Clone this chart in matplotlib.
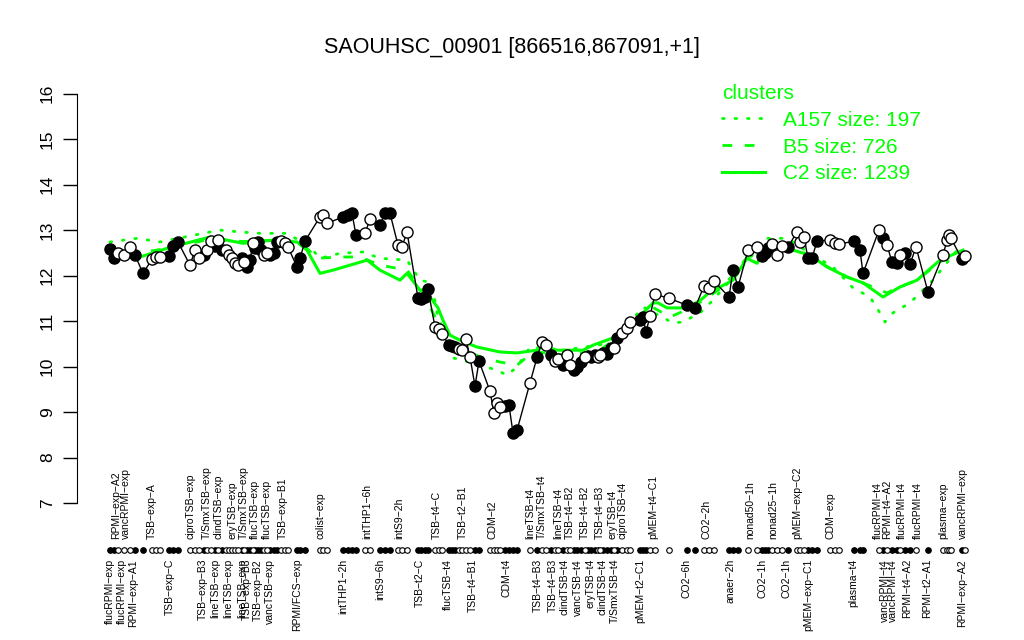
import matplotlib.pyplot as plt
import numpy as np

plt.rcParams['font.family'] = ['Liberation Sans', 'DejaVu Sans']

title = "SAOUHSC_00901 [866516,867091,+1]"

# sample position on the x axis, expression value, filled (1) / open (0) marker
pos = [110, 114, 118, 124, 130, 135, 143, 152, 156, 160, 169, 173, 178,
       190, 195, 199, 204, 207, 211, 215, 218, 222, 226, 229, 232, 235, 238,
       242, 244, 247, 250, 253, 255, 258, 261, 264, 267, 270, 274, 277, 281,
       285, 288, 297, 300, 305, 320, 323, 327, 343, 348, 352, 356, 365, 370,
       380, 385, 390, 398, 402, 407, 418, 421, 425, 428, 435, 439, 442, 449,
       452, 455, 459, 462, 466, 470, 475, 479, 490, 494, 497, 500, 505, 509,
       513, 517, 530, 537, 542, 546, 551, 555, 558, 563, 567, 570, 574, 577,
       581, 585, 588, 591, 595, 598, 600, 603, 607, 611, 614, 617, 622, 627,
       630, 640, 643, 646, 650, 655, 669, 687, 695, 704, 709, 714, 729, 733,
       738, 748, 757, 762, 765, 768, 772, 777, 782, 788, 797, 800, 804, 808,
       812, 817, 830, 835, 839, 854, 860, 863, 879, 883, 887, 892, 897, 900,
       905, 910, 916, 928, 943, 947, 949, 951, 962, 965]
expr = [12.58, 12.38, 12.49, 12.45, 12.63, 12.45, 12.05, 12.36, 12.40, 12.42,
        12.43, 12.65, 12.74, 12.23, 12.56, 12.38, 12.45, 12.56, 12.76, 12.65,
        12.78, 12.56, 12.56, 12.45, 12.38, 12.27, 12.23, 12.38, 12.30, 12.19,
        12.34, 12.71, 12.60, 12.74, 12.56, 12.45, 12.50, 12.45, 12.50, 12.74,
        12.76, 12.71, 12.63, 12.19, 12.38, 12.76, 13.29, 13.33, 13.15, 13.29,
        13.33, 13.37, 12.89, 12.93, 13.24, 13.11, 13.37, 13.37, 12.67, 12.63,
        12.96, 11.51, 11.48, 11.53, 11.70, 10.87, 10.82, 10.71, 10.48, 10.45,
        10.43, 10.38, 10.36, 10.60, 10.21, 9.57, 10.12, 9.46, 8.98, 9.20,
        9.11, 9.13, 9.15, 8.54, 8.60, 9.64, 10.20, 10.54, 10.47, 10.25,
        10.12, 10.16, 10.03, 10.25, 10.03, 9.92, 9.99, 10.10, 10.20, 10.23,
        10.21, 10.25, 10.21, 10.25, 10.30, 10.27, 10.41, 10.41, 10.63, 10.74,
        10.85, 10.98, 11.02, 11.09, 10.76, 11.11, 11.59, 11.50, 11.35, 11.29,
        11.77, 11.73, 11.88, 11.53, 12.12, 11.75, 12.56, 12.63, 12.43, 12.50,
        12.60, 12.69, 12.45, 12.65, 12.63, 12.96, 12.74, 12.85, 12.38, 12.38,
        12.76, 12.78, 12.71, 12.69, 12.76, 12.56, 12.05, 13.00, 12.82, 12.67,
        12.30, 12.27, 12.45, 12.49, 12.25, 12.63, 11.64, 12.45, 12.78, 12.89,
        12.82, 12.36, 12.43]
filled = [1, 1, 0, 0, 0, 1, 1, 0, 0, 0, 1, 1, 1,
          0, 0, 0, 1, 0, 0, 1, 0, 1, 0, 0, 0, 0, 0,
          1, 0, 1, 1, 0, 1, 1, 1, 0, 0, 1, 1, 1, 0,
          0, 0, 1, 1, 1, 0, 0, 0, 1, 1, 1, 1, 0, 0,
          1, 1, 1, 0, 0, 0, 1, 1, 1, 1, 0, 0, 0, 1,
          1, 1, 0, 0, 0, 0, 1, 1, 0, 0, 0, 0, 1, 1,
          1, 1, 0, 1, 0, 0, 1, 0, 0, 1, 0, 0, 1, 1,
          1, 0, 1, 1, 1, 0, 0, 1, 1, 1, 0, 1, 0, 0,
          0, 1, 1, 1, 0, 0, 0, 1, 1, 0, 0, 0, 1, 1,
          1, 0, 0, 1, 1, 1, 0, 0, 0, 1, 0, 0, 0, 1,
          1, 1, 0, 0, 0, 1, 1, 1, 0, 1, 0, 1, 1, 0,
          1, 1, 0, 1, 0, 0, 0, 0, 1, 0]

top_pos = [116, 126, 152, 190, 207, 218, 232, 244, 255, 267, 283, 320, 367,
           399, 437, 463, 492, 530, 542, 558, 570, 585, 600, 612, 622, 653,
           707, 750, 773, 797, 830, 878, 887, 902, 918, 943, 963]
top_lab = ["RPMI-exp-A2", "vancRPMI-exp", "TSB-exp-A", "ciproTSB-exp",
           "T/SmxTSB-exp", "clindTSB-exp", "eryTSB-exp", "T/SmxTSB-exp",
           "flucTSB-exp", "flucTSB-exp", "TSB-exp-B1", "colist-exp",
           "intTHP1-6h", "intS9-2h", "TSB-t4-C", "TSB-t2-B1", "CDM-t2",
           "lineTSB-t4", "T/SmxTSB-t4", "lineTSB-t4", "TSB-t4-B2", "TSB-t4-B2",
           "TSB-t4-B3", "eryTSB-t4", "ciproTSB-t4", "pMEM-t4-C1", "CO2-2h",
           "nonad50-1h", "nonad25-1h", "pMEM-exp-C2", "CDM-exp", "flucRPMI-t4",
           "RPMI-t4-A2", "flucRPMI-t4", "flucRPMI-t4", "plasma-exp",
           "vancRPMI-exp"]
bot_pos = [110, 122, 133, 170, 203, 215, 228, 242, 247, 258, 270, 297, 343,
           380, 420, 448, 473, 507, 538, 553, 565, 578, 590, 603, 615, 640,
           687, 730, 762, 787, 808, 853, 885, 893, 907, 927, 962]
bot_lab = ["flucRPMI-exp", "flucRPMI-exp", "RPMI-exp-A1", "TSB-exp-C",
           "TSB-exp-B3", "lineTSB-exp", "lineTSB-exp", "lineTSB-exp",
           "TSB-exp-B3", "TSB-exp-B2", "vancTSB-exp", "RPMI/FCS-exp",
           "intTHP1-2h", "intS9-6h", "TSB-t2-C", "flucTSB-t4", "TSB-t4-B1",
           "CDM-t4", "TSB-t4-B3", "TSB-t4-B3", "clindTSB-t4", "vancTSB-t4",
           "eryTSB-t4", "clindTSB-t4", "T/SmxTSB-t4", "pMEM-t2-C1", "CO2-6h",
           "anaer-2h", "CO2-1h", "CO2-1h", "pMEM-exp-C1", "plasma-t4",
           "vancRPMI-t4", "vancRPMI-t4", "RPMI-t4-A2", "RPMI-t2-A1",
           "RPMI-exp-A2"]

# cluster mean profiles
a157_x = [110, 137, 160, 210, 220, 240, 260, 287, 310, 320, 340, 363, 380,
          407, 420, 432, 437, 453, 473, 497, 507, 517, 530, 563, 613, 643,
          673, 683, 700, 713, 767, 787, 810, 833, 853, 870, 880, 885, 893,
          910, 933, 953, 963]
a157_y = [12.74, 12.82, 12.74, 12.96, 13.0, 12.96, 12.93, 12.93, 12.63, 12.38,
          12.49, 12.52, 12.38, 12.34, 11.9, 11.84, 11.18, 10.19, 10.08, 9.92,
          9.81, 9.99, 10.43, 10.36, 10.52, 11.31, 10.96, 10.98, 11.18, 11.46,
          12.82, 12.82, 12.49, 12.19, 11.73, 11.53, 11.18, 10.98, 11.18, 11.4,
          11.9, 12.45, 12.71]
b5_x = [107, 140, 167, 210, 243, 273, 297, 307, 317, 340, 360, 380, 407, 420,
        433, 447, 480, 500, 517, 527, 537, 567, 600, 633, 653, 670, 693, 723,
        747, 767, 793, 810, 827, 847, 863, 887, 900, 917, 940, 963]
b5_y = [12.6, 12.5, 12.6, 12.8, 12.75, 12.78, 12.75, 12.6, 12.38, 12.41,
        12.41, 12.23, 12.12, 11.75, 11.18, 10.58, 10.21, 10.1, 10.03, 10.21,
        10.32, 10.25, 10.36, 10.9, 11.3, 11.09, 11.31, 11.75, 12.4, 12.6,
        12.6, 12.45, 12.2, 11.97, 11.84, 11.62, 11.75, 11.9, 12.3, 12.55]
c2_x = [107, 140, 167, 210, 227, 243, 273, 297, 307, 320, 333, 367, 380, 400,
        407, 420, 430, 438, 443, 450, 460, 477, 500, 517, 537, 543, 557, 583,
        593, 613, 633, 653, 658, 667, 687, 700, 713, 720, 733, 747, 757, 767,
        793, 810, 827, 847, 863, 883, 900, 917, 940, 963]
c2_y = [12.62, 12.41, 12.6, 12.85, 12.78, 12.71, 12.78, 12.74, 12.56, 12.05,
        12.12, 12.34, 12.12, 11.9, 12.05, 11.68, 11.53, 11.29, 11.02, 10.69,
        10.58, 10.43, 10.32, 10.3, 10.36, 10.45, 10.36, 10.36, 10.47, 10.63,
        10.96, 11.4, 11.4, 11.29, 11.29, 11.45, 11.7, 11.75, 11.9, 12.38,
        12.27, 12.63, 12.56, 12.45, 12.19, 11.97, 11.84, 11.53, 11.75, 11.9,
        12.34, 12.56]

green = '#00ff00'

fig = plt.figure(figsize=(10.24, 6.4), dpi=100)
# y range 7..16 sits between pixel rows 503 and 93.7
ax = fig.add_axes([77 / 1024, (640 - 503) / 640, (1000 - 77) / 1024, (503 - 93.7) / 640])
ax.set_xlim(77, 1000)
ax.set_ylim(7, 16)

ax.plot(a157_x, a157_y, color=green, lw=2, ls=(0, (0.6, 3.9)),
        dash_capstyle='round', label='A157 size: 197', zorder=2)
ax.plot(b5_x, b5_y, color=green, lw=2, ls=(0, (3.5, 4.5)),
        label='B5 size: 726', zorder=2)
ax.plot(c2_x, c2_y, color=green, lw=2.2, label='C2 size: 1239', zorder=2)

ax.plot(pos, expr, color='black', lw=1, zorder=3)
pos_a = np.array(pos)
expr_a = np.array(expr)
fill_a = np.array(filled, dtype=bool)
ax.plot(pos_a[fill_a], expr_a[fill_a], 'o', ms=8, mfc='black', mec='black',
        mew=1, ls='none', zorder=4)
ax.plot(pos_a[~fill_a], expr_a[~fill_a], 'o', ms=8, mfc='white', mec='black',
        mew=1, ls='none', zorder=4)

# row of small sample markers below the axis
row_y = 7 - 47 / 45.5
ax.plot(pos_a[fill_a], np.full(fill_a.sum(), row_y), 'o', ms=4, mfc='black',
        mec='black', mew=0.8, ls='none', clip_on=False)
ax.plot(pos_a[~fill_a], np.full((~fill_a).sum(), row_y), 'o', ms=4, mfc='white',
        mec='black', mew=0.8, ls='none', clip_on=False)

for x, t in zip(top_pos, top_lab):
    ax.text(x, 7 - 36 / 45.5, t.replace('-', '\u2212'), rotation=90,
            ha='center', va='bottom', fontsize=7.5, clip_on=False)
for x, t in zip(bot_pos, bot_lab):
    ax.text(x, 7 - 56 / 45.5, t.replace('-', '\u2212'), rotation=90,
            ha='center', va='top', fontsize=7.5, clip_on=False)

for s in ['top', 'right', 'bottom']:
    ax.spines[s].set_visible(False)
ax.spines['left'].set_bounds(7, 16)
ax.set_xticks([])
ax.set_yticks(range(7, 17))
ax.tick_params(axis='y', length=10, width=1, labelsize=12.5, pad=6)
for lab in ax.get_yticklabels():
    lab.set_rotation(90)
    lab.set_va('center')

leg = fig.legend(handles=ax.get_lines()[:3], loc='upper left',
                 bbox_to_anchor=(703 / 1024, 1 - 65 / 640),
                 frameon=False, title='clusters', fontsize=15,
                 title_fontsize=15, handlelength=2.07, handletextpad=0.87,
                 labelspacing=0.38, alignment='left')
leg.get_title().set_color(green)
for t in leg.get_texts():
    t.set_color(green)

fig.text(0.5, 1 - 47 / 640, title, ha='center', va='center', fontsize=15.5)

fig.savefig('out.png', dpi=100)
